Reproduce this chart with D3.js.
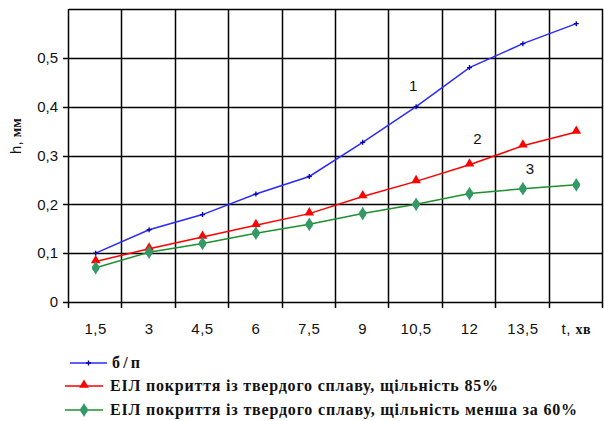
<!DOCTYPE html>
<html><head><meta charset="utf-8">
<script src="https://cdn.jsdelivr.net/npm/d3@7"></script>
<style>body{margin:0;background:#fff}svg{display:block}</style>
</head><body>
<svg id="c" width="604" height="421"></svg>
<script>
const tValues = [1.5, 3, 4.5, 6, 7.5, 9, 10.5, 12, 13.5, 15];
const xTickLabels = ["1,5","3","4,5","6","7,5","9","10,5","12","13,5","t, хв"];
const yTicks = [0, 0.1, 0.2, 0.3, 0.4, 0.5];
const gridValues = [0.1, 0.2, 0.3, 0.4, 0.5, 0.6];
const seriesNames = ["б/п", "ЕІЛ покриття із твердого сплаву, щільність 85%", "ЕІЛ покриття із твердого сплаву, щільність менша за 60%"];
const s1 = [0.100, 0.148, 0.179, 0.221, 0.257, 0.327, 0.400, 0.480, 0.529, 0.570];
const s2 = [0.083, 0.109, 0.133, 0.157, 0.181, 0.216, 0.247, 0.281, 0.320, 0.348];
const s3 = [0.070, 0.102, 0.120, 0.141, 0.159, 0.181, 0.200, 0.222, 0.232, 0.240];
const curveLabels = ["1", "2", "3"];
const curveLabelT = [10.5, 12, 13.5];
const curveLabelH = [0.433, 0.324, 0.263];

const svg = d3.select("#c");
const L = 69, R = 603, T = 9, B = 302;
const x = d3.scaleBand().domain(tValues).range([L, R]).padding(0);
const y = d3.scaleLinear().domain([0, 0.6]).range([B, T]);
const cx = v => x(v) + x.bandwidth() / 2;
const fmt = v => v === 0 ? "0" : d3.format(".1f")(v).replace(".", ",");
const INK = "#000000";

const bounds = tValues.map(v => x(v)).concat([R]);
const px = v => Math.round(v) - 0.5;

// grid as one path
let gd = "";
gridValues.forEach(v => { const yy = Math.round(y(v)) + 0.5; gd += `M${L},${yy}H${R}`; });
bounds.forEach(b => { gd += `M${px(b)},${T}V${B + 6}`; });
// axes
gd += `M${L - 6},${B + 0.5}H${R}`;
yTicks.forEach(v => { const yy = Math.round(y(v)) + 0.5; gd += `M${L - 6},${yy}H${L}`; });
svg.append("path").attr("d", gd).attr("fill", "none").attr("stroke", INK).attr("stroke-width", 1.5);

// y tick labels (via axis generator, lines hidden)
const ya = svg.append("g").attr("transform", `translate(${L - 6},0)`)
  .call(d3.axisLeft(y).tickValues(yTicks).tickFormat(fmt).tickSize(0).tickPadding(5));
ya.select(".domain").remove();
ya.selectAll(".tick text").attr("font-family", "Liberation Sans, Arial, sans-serif").attr("font-size", 15).attr("fill", "#111");

// x tick labels
const xt = svg.append("g").selectAll("text").data(tValues).join("text")
  .attr("x", d => cx(d)).attr("y", 334).attr("text-anchor", "middle")
  .attr("font-family", "Liberation Sans, Arial, sans-serif").attr("font-size", 15).attr("fill", "#111")
  .attr("letter-spacing", 0.5);
xt.each(function(d, i) {
  const lab = xTickLabels[i];
  const t = d3.select(this);
  if (lab.indexOf("хв") >= 0) {
    t.append("tspan").text("t, ");
    t.append("tspan").attr("font-family", "Liberation Serif, serif").attr("font-weight", "bold").attr("font-size", 14).text("хв");
  } else t.text(lab);
});

// y title
const yt = svg.append("text").attr("transform", "translate(21,136) rotate(-90)").attr("text-anchor", "middle")
  .attr("font-size", 15).attr("fill", "#111");
yt.append("tspan").attr("font-family", "Liberation Sans, Arial, sans-serif").text("h, ");
yt.append("tspan").attr("font-family", "Liberation Serif, serif").attr("font-weight", "bold").attr("font-size", 14).text("мм");

// series
const line = d3.line().x((d, i) => cx(tValues[i])).y(d => y(d));
const colors = ["#2a2aff", "#ff0000", "#1f8f2f"];
const data = [s1, s2, s3];
data.forEach((s, k) => {
  svg.append("path").datum(s).attr("d", line).attr("fill", "none").attr("stroke", colors[k]).attr("stroke-width", 1.5);
});
const tri = d3.symbol().type(d3.symbolTriangle).size(40);
const dia = d3.symbol().type(d3.symbolDiamond).size(55);
function drawMarker(sel, k, mx, my) {
  if (k === 0) {
    sel.append("path").attr("d", `M${mx - 2.5},${my}H${mx + 2.5}M${mx},${my - 2.5}V${my + 2.5}`)
      .attr("stroke", "#0000aa").attr("stroke-width", 1.3);
  } else if (k === 1) {
    sel.append("path").attr("d", tri()).attr("transform", `translate(${mx},${my - 1})`).attr("fill", "#ff0000");
  } else {
    sel.append("path").attr("d", dia()).attr("transform", `translate(${mx},${my})`).attr("fill", "#339966");
    sel.append("circle").attr("cx", mx).attr("cy", my).attr("r", 3.6).attr("fill", "#339966");
  }
}
data.forEach((s, k) => {
  const mg = svg.append("g");
  s.forEach((v, i) => drawMarker(mg, k, cx(tValues[i]), y(v)));
});

// curve labels
const labDx = [-3, 8, 7];
svg.append("g").selectAll("text").data(curveLabels).join("text")
  .attr("x", (d, i) => cx(curveLabelT[i]) + labDx[i]).attr("y", (d, i) => y(curveLabelH[i]))
  .attr("text-anchor", "middle")
  .attr("font-family", "Liberation Sans, Arial, sans-serif").attr("font-size", 15).attr("fill", "#111")
  .text(d => d);

// legend
const legRows = [
  {x1: 70, x2: 107, tx: 112, y: 363, w: 28},
  {x1: 65, x2: 103, tx: 110, y: 386, w: 388},
  {x1: 65, x2: 103, tx: 110, y: 410, w: 467}
];
const lg = svg.append("g");
seriesNames.forEach((n, k) => {
  const r = legRows[k];
  lg.append("path").attr("d", `M${r.x1},${r.y}H${r.x2}`)
    .attr("stroke", colors[k]).attr("stroke-width", 1.5);
  drawMarker(lg, k, (r.x1 + r.x2) / 2, r.y);
  lg.append("text").attr("x", r.tx).attr("y", r.y + 5)
    .attr("font-family", "Liberation Serif, serif").attr("font-weight", "bold").attr("font-size", 16).attr("fill", "#111")
    .attr("textLength", r.w).attr("lengthAdjust", "spacing").text(n);
});
</script>
</body></html>
